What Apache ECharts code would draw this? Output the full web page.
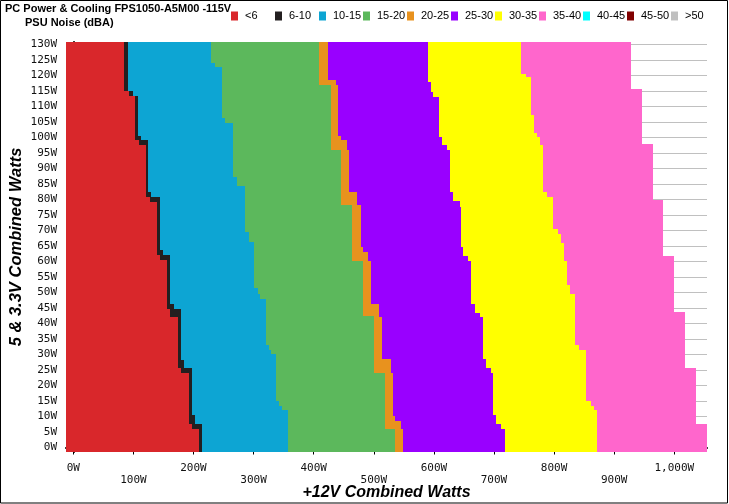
<!DOCTYPE html>
<html><head><meta charset="utf-8">
<script src="https://cdn.jsdelivr.net/npm/echarts@6/dist/echarts.min.js"></script>
<style>html,body{margin:0;padding:0;background:#fff}#c{width:729px;height:504px}</style>
</head><body><div id="c"></div>
<script>
// Noise bands (dBA)
const categories = ['<6','6-10','10-15','15-20','20-25','25-30','30-35','35-40','40-45','45-50','>50'];
const colors = ['#d9272b','#231f20','#0da5d3','#5cb85c','#e8921e','#9900ff','#ffff00','#ff66cc','#00ffff','#800000','#c0c0c0'];

// Right edge of each band: [5&3.3V watts from which it applies, +12V watts]
const edge_lt6   = [[-1.45,210],[6.1,198],[7.7,192],[24.1,180],[25.5,174],[42.1,161],[44.8,156],[60.4,145],[62,140],[79.2,127],[80.8,121],[97.5,109],[99.1,103],[113.4,92],[114.9,84]];
const edge_6_10  = [[-1.45,215],[7.7,202],[10.4,197],[25.5,185],[28.1,179],[44.8,167],[46.4,161],[62,150],[63.6,145],[80.8,130],[82.4,125],[99.1,113],[100.4,108],[113.4,99],[114.9,91]];
const edge_10_15 = [[-1.45,357],[12,347],[13.5,343],[15,338],[30.3,329],[31.6,325],[33,320],[48,311],[49.6,307],[51.3,301],[66.4,292],[69.6,285],[84.2,273],[87.4,266],[104.7,253],[106.3,247],[122.7,236],[124,229.5]];
const edge_15_20 = [[-1.45,536],[6.1,518],[24.1,500],[42.3,482],[60.2,464],[78.3,446],[96.1,428],[116.8,409.5]];
const edge_20_25 = [[-1.45,549],[6.1,546],[8.7,536],[10.3,532],[24.1,528],[28.7,513],[42.1,509.5],[46.4,496],[60.2,491],[63.1,482],[64.7,478],[78.3,472],[82.4,459.5],[96.1,455.6],[99.3,445.6],[100.6,440.6],[116.8,437],[118.4,424]];
const edge_25_30 = [[-1.45,718],[6.1,712],[7.5,703],[10.4,699],[24.1,694.5],[25.5,686],[28.7,681],[42.1,677],[43.4,668],[46.4,662],[60.2,657],[61.7,649],[64.7,644.5],[77.5,643],[79.5,631],[82.4,626],[96.1,622],[97.5,614],[100.2,608],[113.1,599],[114.7,594.5],[118,590.6]];
const edge_30_35 = [[-1.45,871],[12,867],[13.3,861],[14.9,853],[31.4,842],[33,834.5],[49.6,827],[52.3,821],[60.2,817],[66,811],[69,806],[70.6,798],[80.8,789],[82.4,782],[97.5,777],[100.2,772],[101.3,767],[107.2,762],[119.5,753],[120.6,744.5]];
const edge_35_40 = [[-1.45,1054.5],[7.5,1036],[25.5,1018],[43.6,999],[61.7,982],[79.9,964],[98,946],[115.6,928]];
const edge_40_45 = [];
const edge_45_50 = [];
const edge_gt50  = [];
const edges = [edge_lt6, edge_6_10, edge_10_15, edge_15_20, edge_20_25, edge_25_30, edge_30_35, edge_35_40, edge_40_45, edge_45_50, edge_gt50];

// Axes
const X_MIN = -12.1, X_MAX = 1054.4;
const Y_MIN = -1.45, Y_MAX = 130.8;
const yTicks = [0,5,10,15,20,25,30,35,40,45,50,55,60,65,70,75,80,85,90,95,100,105,110,115,120,125,130];
const yTickLabels = ['0W','5W','10W','15W','20W','25W','30W','35W','40W','45W','50W','55W','60W','65W','70W','75W','80W','85W','90W','95W','100W','105W','110W','115W','120W','125W','130W'];
const xTicks = [0,100,200,300,400,500,600,700,800,900,1000];
const xTickLabels = ['0W','100W','200W','300W','400W','500W','600W','700W','800W','900W','1,000W'];
const xMinorTicks = []; for (let v = 0; v <= 1050; v += 25) xMinorTicks.push(v);
const yMinorTicks = []; for (let v = 0; v <= 130; v += 1) yMinorTicks.push(v);

const chart = echarts.init(document.getElementById('c'), null, {renderer: 'canvas'});
const tickFont = {fontFamily: 'DejaVu Sans Mono', fontSize: 11, color: '#111'};

function rowsOf(edge) {
  return edge.map((p, i) => [p[0], i + 1 < edge.length ? edge[i + 1][0] : Y_MAX, p[1]]);
}
function makeRender(color) {
  return function (params, api) {
    const y0 = api.value(0), y1 = api.value(1), x1 = api.value(2);
    const a = api.coord([X_MIN, y1]);
    const b = api.coord([x1, y0]);
    const l = Math.round(a[0]), t = Math.round(a[1]), r = Math.round(b[0]), btm = Math.round(b[1]);
    return {type: 'rect', shape: {x: l, y: t, width: r - l, height: btm - t}, style: {fill: color}};
  };
}

const series = categories.map((name, i) => ({
  name: name,
  type: 'custom',
  xAxisIndex: 0, yAxisIndex: 0,
  z: 20 - i,
  itemStyle: {color: colors[i]},
  encode: {x: 2, y: [0, 1]},
  renderItem: makeRender(colors[i]),
  data: rowsOf(edges[i])
}));

// one legend block per band, evenly spaced like the original key
const legends = categories.map((n, i) => ({
  left: 231 + i * 44, top: 10.5, padding: 0, itemWidth: 7, itemHeight: 9, icon: 'rect',
  selectedMode: false,
  textStyle: {fontFamily: 'Liberation Sans', fontSize: 11, color: '#000', padding: [0, 0, 0, 2]},
  data: [{name: n, itemStyle: {color: colors[i]}}]
}));

chart.setOption({
  backgroundColor: '#fff',
  animation: false,
  title: [
    {text: 'PC Power & Cooling FPS1050-A5M00 -115V', left: 5, top: 3, padding: 0,
     textStyle: {fontFamily: 'Liberation Sans', fontSize: 11, fontWeight: 'bold', color: '#000'}},
    {text: 'PSU Noise (dBA)', left: 25, top: 17, padding: 0,
     textStyle: {fontFamily: 'Liberation Sans', fontSize: 11, fontWeight: 'bold', color: '#000'}}
  ],
  legend: legends,
  grid: {left: 66, right: 22, top: 42, bottom: 52, containLabel: false, outerBoundsMode: 'none'},
  xAxis: [
    {type: 'value', min: X_MIN, max: X_MAX, position: 'bottom',
     name: '+12V Combined Watts', nameLocation: 'middle', nameGap: 33, nameMoveOverlap: false,
     nameTextStyle: {fontFamily: 'Liberation Sans', fontSize: 16, fontWeight: 'bold', fontStyle: 'italic', color: '#000'},
     axisLine: {show: true, lineStyle: {color: '#000', width: 2}},
     axisTick: {show: true, length: 7, customValues: xTicks, lineStyle: {color: '#000'}},
     axisLabel: {show: true, customValues: xTicks, margin: 10, lineHeight: 12, ...tickFont,
       formatter: v => { const i = xTicks.indexOf(v); const s = xTickLabels[i]; return (i % 2) ? '\n' + s : s; }},
     splitLine: {show: false}},
    {type: 'value', min: X_MIN, max: X_MAX, position: 'bottom',
     axisLine: {show: false},
     axisTick: {show: true, length: 3.5, customValues: xMinorTicks, lineStyle: {color: '#000'}},
     axisLabel: {show: false}, splitLine: {show: false}}
  ],
  yAxis: [
    {type: 'value', min: Y_MIN, max: Y_MAX, position: 'left',
     name: '5 & 3.3V Combined Watts', nameLocation: 'middle', nameGap: 41, nameRotate: 90, nameMoveOverlap: false,
     nameTextStyle: {fontFamily: 'Liberation Sans', fontSize: 16.5, fontWeight: 'bold', fontStyle: 'italic', color: '#000'},
     axisLine: {show: true, lineStyle: {color: '#000', width: 2}},
     axisTick: {show: true, length: 6, customValues: yTicks, lineStyle: {color: '#000'}},
     axisLabel: {show: true, customValues: yTicks, margin: 9, ...tickFont,
       formatter: v => yTickLabels[yTicks.indexOf(v)]},
     splitLine: {show: true, lineStyle: {color: '#c0c0c0', width: 1}}},
    {type: 'value', min: Y_MIN, max: Y_MAX, position: 'left',
     axisLine: {show: false},
     axisTick: {show: true, length: 2.5, customValues: yMinorTicks, lineStyle: {color: '#000'}},
     axisLabel: {show: false}, splitLine: {show: false}}
  ],
  graphic: [
    {type: 'rect', silent: true, z: 100, shape: {x: 0.5, y: 0.5, width: 727, height: 502.5},
     style: {fill: null, stroke: '#000', lineWidth: 1}}
  ],
  series: series
});
</script></body></html>
